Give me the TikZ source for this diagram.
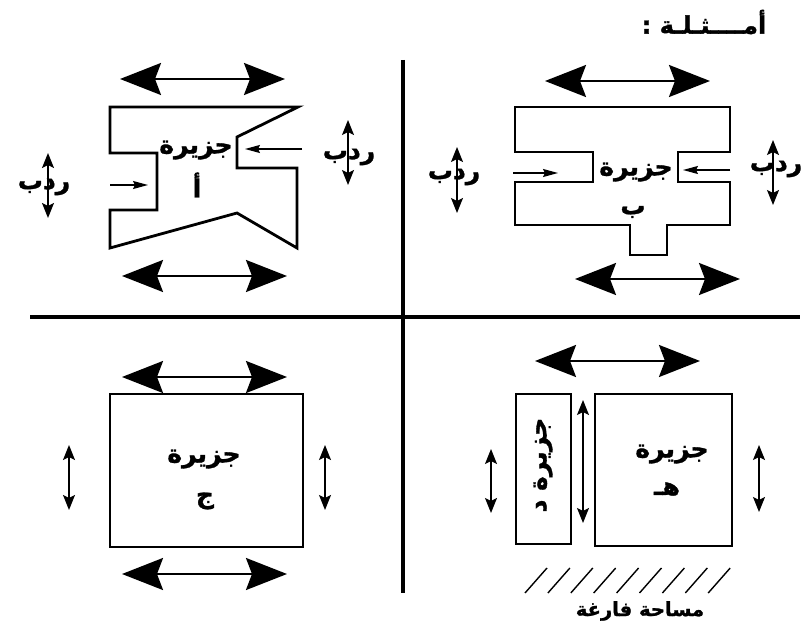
\documentclass[tikz,border=0pt]{standalone}
\usepackage{fontspec}
\newfontfamily\arabicfont[Script=Arabic,BoldFeatures={FakeBold=1.3}]{DejaVu Sans}
\TeXXeTstate=1
\usetikzlibrary{arrows.meta}
\newcommand{\artxt}[1]{\beginR #1\endR}
\begin{document}
\begin{tikzpicture}[x=1pt,y=-1pt,
  outline/.style={line width=2.8pt,line join=miter},
  divider/.style={line width=3.2pt},
  bigarr/.style={line width=2.2pt,{Stealth[length=41pt,width=32pt,inset=6pt]}-{Stealth[length=41pt,width=32pt,inset=6pt]}},
  vsmall/.style={line width=1.4pt,{Stealth[length=15pt,width=12pt,inset=3pt]}-{Stealth[length=15pt,width=12pt,inset=3pt]}},
  push/.style={line width=1.4pt,-{Stealth[length=15pt,width=8pt,inset=2pt]}},
  hatch/.style={line width=1.4pt},
  lbl/.style={font=\arabicfont\bfseries\fontsize{25}{27}\selectfont,inner sep=0pt},
  smalllbl/.style={font=\arabicfont\bfseries\fontsize{19.5}{21}\selectfont,inner sep=0pt},
  title/.style={font=\arabicfont\bfseries\fontsize{24}{26}\selectfont,inner sep=0pt}]
\useasboundingbox (0,0) rectangle (806,636);

% title
\node[title] (ttl) at (704,22) {\artxt{أمــــثـلـة :}};

% dividers
\coordinate (vt) at (403,60); \coordinate (vb) at (403,593);
\coordinate (hl) at (30,317); \coordinate (hr) at (800,317);
\draw[divider] (vt) -- (vb);
\draw[divider] (hl) -- (hr);

% ---------- island A (top left)
\draw[outline] (110,107) -- (298,107) -- (237,137) -- (237,168) -- (297,168) -- (297,248)
  -- (237,213) -- (110,248) -- (110,210) -- (157,210) -- (157,153) -- (110,153) -- cycle;
\node[lbl] (a1) at (196,150) {\artxt{جزيرة}};
\node[lbl] (a2) at (197,185) {\artxt{أ}};
\coordinate (at1) at (120,79); \coordinate (at2) at (285,79);
\coordinate (ab1) at (122,276); \coordinate (ab2) at (287,276);
\draw[bigarr] (at1) -- (at2);
\draw[bigarr] (ab1) -- (ab2);
\coordinate (alv1) at (48,153); \coordinate (alv2) at (48,218);
\draw[vsmall] (alv1) -- (alv2);
\node[lbl] (ar1) at (44,187) {\artxt{ردب}};
\coordinate (arv1) at (348,120); \coordinate (arv2) at (348,185);
\draw[vsmall] (arv1) -- (arv2);
\node[lbl] (ar2) at (349,157) {\artxt{ردب}};
\coordinate (alp1) at (110,185); \coordinate (alp2) at (148,185);
\draw[push] (alp1) -- (alp2);
\coordinate (arp1) at (302,149); \coordinate (arp2) at (245,149);
\draw[push] (arp1) -- (arp2);

% ---------- island B (top right)
\draw[outline] (515,107) -- (730,107) -- (730,152) -- (678,152) -- (678,182) -- (730,182)
  -- (730,225) -- (667,225) -- (667,255) -- (630,255) -- (630,225) -- (515,225)
  -- (515,182) -- (593,182) -- (593,152) -- (515,152) -- cycle;
\node[lbl] (b1) at (636,172) {\artxt{جزيرة}};
\node[lbl] (b2) at (633,212) {\artxt{ب}};
\coordinate (bt1) at (545,81); \coordinate (bt2) at (710,81);
\coordinate (bb1) at (575,279); \coordinate (bb2) at (740,279);
\draw[bigarr] (bt1) -- (bt2);
\draw[bigarr] (bb1) -- (bb2);
\coordinate (blv1) at (457,147); \coordinate (blv2) at (457,213);
\draw[vsmall] (blv1) -- (blv2);
\node[lbl] (br1) at (454,177) {\artxt{ردب}};
\coordinate (brv1) at (773,140); \coordinate (brv2) at (773,205);
\draw[vsmall] (brv1) -- (brv2);
\node[lbl] (br2) at (776,169) {\artxt{ردب}};
\coordinate (blp1) at (513,173); \coordinate (blp2) at (558,173);
\draw[push] (blp1) -- (blp2);
\coordinate (brp1) at (730,170); \coordinate (brp2) at (683,170);
\draw[push] (brp1) -- (brp2);

% ---------- island C (bottom left)
\draw[outline] (110,394) rectangle (303,547);
\node[lbl] (c1) at (204,459) {\artxt{جزيرة}};
\node[lbl] (c2) at (205,501) {\artxt{ج}};
\coordinate (ct1) at (122,377); \coordinate (ct2) at (287,377);
\coordinate (cb1) at (122,574); \coordinate (cb2) at (287,574);
\draw[bigarr] (ct1) -- (ct2);
\draw[bigarr] (cb1) -- (cb2);
\coordinate (clv1) at (69,445); \coordinate (clv2) at (69,510);
\coordinate (crv1) at (325,445); \coordinate (crv2) at (325,510);
\draw[vsmall] (clv1) -- (clv2);
\draw[vsmall] (crv1) -- (crv2);

% ---------- islands D and E (bottom right)
\draw[outline] (516,394) rectangle (571,544);
\draw[outline] (595,394) rectangle (732,546);
\node[lbl,rotate=90] (d1) at (543,465) {\artxt{جزيرة د}};
\node[lbl] (e1) at (672,454) {\artxt{جزيرة}};
\node[lbl] (e2) at (667,489) {\artxt{هـ}};
\coordinate (et1) at (535,361); \coordinate (et2) at (700,361);
\draw[bigarr] (et1) -- (et2);
\coordinate (elv1) at (491,449); \coordinate (elv2) at (491,513);
\coordinate (emv1) at (583,400); \coordinate (emv2) at (583,523);
\coordinate (erv1) at (759,445); \coordinate (erv2) at (759,512);
\draw[vsmall] (elv1) -- (elv2);
\draw[vsmall] (emv1) -- (emv2);
\draw[vsmall] (erv1) -- (erv2);
\foreach \i in {0,...,8} {
  \draw[hatch] ({525+22.9*\i},593) -- ({547+22.9*\i},568);
}
\node[smalllbl] (empty) at (640,611) {\artxt{مساحة فارغة}};
\end{tikzpicture}
\end{document}
